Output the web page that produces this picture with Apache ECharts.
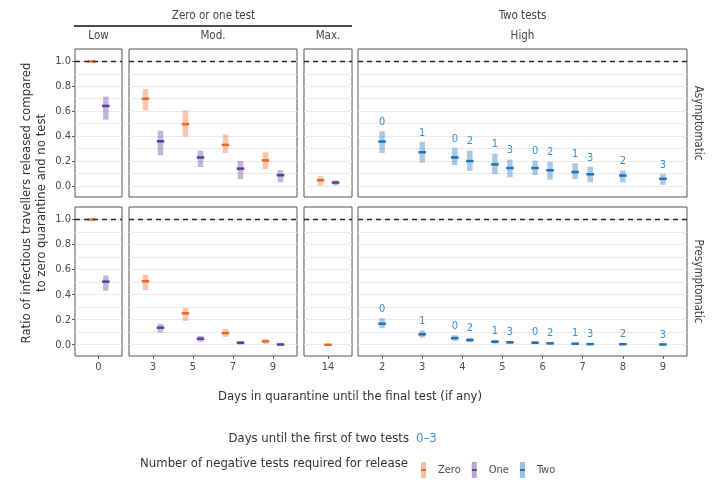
<!DOCTYPE html>
<html><head><meta charset="utf-8">
<script src="https://cdn.jsdelivr.net/npm/echarts@6/dist/echarts.min.js"></script>
<style>html,body{margin:0;padding:0;background:#fff}#c{width:725px;height:485px}</style>
</head><body><div id="c"></div><script>
const FONT = '"Liberation Sans Narrow", "DejaVu Sans Condensed", Roboto, sans-serif';

// ---- facets & ticks ----
const panelNames = ['Low', 'Mod.', 'Max.', 'High'];
const panelDays = [['0'], ['3', '5', '7', '9'], ['14'], ['2', '3', '4', '5', '6', '7', '8', '9']];
const rowNames = ['Asymptomatic', 'Presymptomatic'];
const groupNames = ['Zero', 'One', 'Two'];
const yTicks = [0, 0.2, 0.4, 0.6, 0.8, 1.0];
const yGrid = [0, 0.1, 0.2, 0.3, 0.4, 0.5, 0.6, 0.7, 0.8, 0.9, 1.0];
const refLine = 1.0;

// ---- Asymptomatic ----
const asymZeroDay = ['0', '3', '5', '7', '9', '14'];
const asymZeroMed = [1.0, 0.700, 0.496, 0.329, 0.204, 0.045];
const asymZeroLo  = [0.996, 0.610, 0.400, 0.268, 0.138, 0.005];
const asymZeroHi  = [1.0, 0.775, 0.602, 0.408, 0.265, 0.072];
const asymOneDay = ['0', '3', '5', '7', '9', '14'];
const asymOneMed = [0.642, 0.358, 0.228, 0.138, 0.085, 0.026];
const asymOneLo  = [0.536, 0.249, 0.156, 0.058, 0.032, 0.008];
const asymOneHi  = [0.713, 0.440, 0.279, 0.196, 0.122, 0.040];
const asymTwoDay   = ['2', '3', '4', '4', '5', '5', '6', '6', '7', '7', '8', '9'];
const asymTwoFirst = ['0', '1', '0', '2', '1', '3', '0', '2', '1', '3', '2', '3'];
const asymTwoMed = [0.356, 0.270, 0.228, 0.199, 0.172, 0.143, 0.143, 0.125, 0.111, 0.093, 0.082, 0.056];
const asymTwoLo  = [0.268, 0.191, 0.170, 0.125, 0.098, 0.072, 0.090, 0.053, 0.058, 0.032, 0.032, 0.011];
const asymTwoHi  = [0.435, 0.350, 0.302, 0.279, 0.255, 0.207, 0.199, 0.191, 0.178, 0.149, 0.119, 0.093];

// ---- Presymptomatic ----
const preZeroDay = ['0', '3', '5', '7', '9', '14'];
const preZeroMed = [1.0, 0.507, 0.251, 0.093, 0.027, 0.0];
const preZeroLo  = [0.996, 0.440, 0.195, 0.067, 0.011, 0.0];
const preZeroHi  = [1.0, 0.555, 0.291, 0.123, 0.043, 0.003];
const preOneDay = ['0', '3', '5', '7', '9'];
const preOneMed = [0.504, 0.136, 0.048, 0.016, 0.002];
const preOneLo  = [0.435, 0.101, 0.027, 0.005, 0.0];
const preOneHi  = [0.549, 0.163, 0.067, 0.024, 0.006];
const preTwoDay   = ['2', '3', '4', '4', '5', '5', '6', '6', '7', '7', '8', '9'];
const preTwoFirst = ['0', '1', '0', '2', '1', '3', '0', '2', '1', '3', '2', '3'];
const preTwoMed = [0.168, 0.083, 0.053, 0.037, 0.024, 0.019, 0.016, 0.011, 0.008, 0.005, 0.004, 0.002];
const preTwoLo  = [0.136, 0.061, 0.035, 0.024, 0.013, 0.011, 0.009, 0.005, 0.004, 0.002, 0.001, 0.0];
const preTwoHi  = [0.208, 0.109, 0.072, 0.053, 0.035, 0.027, 0.024, 0.017, 0.013, 0.008, 0.007, 0.004];

// ---- styling / layout ----
const colors = { Zero: '#e8692a', One: '#5e3c99', Two: '#1f72b5' };
const labelColor = '#3a8fd1';
const colLeft = [75, 129, 304, 358];
const colWidth = [47, 168, 48, 329];
const rowTop = [49, 207];
const rowHeight = [148, 149];
const yMin = -0.09, yMax = 1.1;
const dodgeWidth = 0.375;

const rows = [
  { Zero: { day: asymZeroDay, med: asymZeroMed, lo: asymZeroLo, hi: asymZeroHi },
    One:  { day: asymOneDay, med: asymOneMed, lo: asymOneLo, hi: asymOneHi },
    Two:  { day: asymTwoDay, med: asymTwoMed, lo: asymTwoLo, hi: asymTwoHi, first: asymTwoFirst } },
  { Zero: { day: preZeroDay, med: preZeroMed, lo: preZeroLo, hi: preZeroHi },
    One:  { day: preOneDay, med: preOneMed, lo: preOneLo, hi: preOneHi },
    Two:  { day: preTwoDay, med: preTwoMed, lo: preTwoLo, hi: preTwoHi, first: preTwoFirst } }
];

const grids = [], xAxes = [], yAxes = [], series = [];
for (let r = 0; r < 2; r++) {
  for (let c = 0; c < 4; c++) {
    const gi = r * 4 + c;
    const n = panelDays[c].length;
    const idx = panelDays[c].map((d, i) => i + 1);
    grids.push({ left: colLeft[c], top: rowTop[r], width: colWidth[c], height: rowHeight[r],
      show: true, borderColor: '#555', borderWidth: 1, backgroundColor: '#fff' });
    xAxes.push({ gridIndex: gi, type: 'value', min: 0.4, max: n + 0.6, position: 'bottom',
      splitLine: { show: false }, axisLine: { show: false, onZero: false },
      axisTick: { show: r === 1, customValues: idx, length: 3, lineStyle: { color: '#555' } },
      axisLabel: { show: r === 1, customValues: idx, margin: 6, color: '#4d4d4d', fontSize: 11, fontFamily: FONT,
        formatter: v => panelDays[c][Math.round(v) - 1] } });
    yAxes.push({ gridIndex: gi, type: 'value', min: yMin, max: yMax, position: 'left',
      splitLine: { show: false }, axisLine: { show: false, onZero: false },
      axisTick: { show: c === 0, customValues: yTicks, length: 3, lineStyle: { color: '#555' } },
      axisLabel: { show: c === 0, customValues: yTicks, margin: 4, color: '#4d4d4d', fontSize: 11, fontFamily: FONT,
        formatter: v => v.toFixed(1) } });
    yAxes.push({ gridIndex: gi, type: 'value', min: yMin, max: yMax, position: 'right',
      axisLine: { show: false, onZero: false }, axisLabel: { show: false },
      axisTick: { show: false, customValues: yGrid },
      splitLine: { show: true, lineStyle: { color: '#ebebeb', width: 1 } } });
    series.push({ type: 'line', data: [], xAxisIndex: gi, yAxisIndex: gi * 2, z: 2, silent: true,
      markLine: { silent: true, symbol: 'none', label: { show: false }, animation: false,
        lineStyle: { type: [5, 4], color: '#2a2a2a', width: 1.4 }, data: [{ yAxis: refLine }] } });
  }
}

function panelOf(group, day) {
  if (group === 'Two') return 3;
  for (let p = 0; p < 3; p++) if (panelDays[p].includes(day)) return p;
  return -1;
}

for (let r = 0; r < 2; r++) {
  const pts = [];
  groupNames.forEach(g => {
    const s = rows[r][g];
    s.day.forEach((d, i) => {
      const p = panelOf(g, d);
      pts.push({ g, p, cat: panelDays[p].indexOf(d) + 1, med: s.med[i], lo: s.lo[i], hi: s.hi[i],
        label: s.first ? s.first[i] : null });
    });
  });
  // dodge points sharing a position
  const slots = {};
  pts.forEach(pt => { const k = pt.p + '|' + pt.cat; (slots[k] = slots[k] || []).push(pt); });
  Object.values(slots).forEach(arr => arr.forEach((pt, k) => { pt.x = pt.cat + (k - (arr.length - 1) / 2) * dodgeWidth; }));

  for (let p = 0; p < 4; p++) {
    groupNames.forEach(g => {
      const sp = pts.filter(pt => pt.p === p && pt.g === g);
      if (!sp.length) return;
      const gi = r * 4 + p;
      const col = colors[g];
      series.push({
        type: 'custom', name: g, xAxisIndex: gi, yAxisIndex: gi * 2, z: 3,
        itemStyle: { color: col }, color: col,
        data: sp.map(pt => [pt.x, pt.med, pt.lo, pt.hi]),
        renderItem: (params, api) => {
          const x = api.value(0);
          const pm = api.coord([x, api.value(1)]);
          const pl = api.coord([x, api.value(2)]);
          const ph = api.coord([x, api.value(3)]);
          const children = [
            { type: 'rect', shape: { x: pm[0] - 2.75, y: ph[1] - 0.5, width: 5.5, height: Math.max(pl[1] - ph[1] + 1, 1.5) },
              style: { fill: col, opacity: 0.38 } },
            { type: 'rect', shape: { x: pm[0] - 3.75, y: pm[1] - 1.25, width: 7.5, height: 2.5 },
              style: { fill: col } }
          ];
          const lab = sp[params.dataIndex].label;
          if (lab !== null) {
            children.push({ type: 'text', x: pm[0], y: ph[1] - 9.5,
              style: { text: lab, fill: labelColor, font: '11px ' + FONT, align: 'center', verticalAlign: 'middle' } });
          }
          return { type: 'group', children };
        }
      });
    });
  }
}

function keyGrad(col) {
  return { type: 'linear', x: 0, y: 0, x2: 0, y2: 1, colorStops: [
    { offset: 0, color: col + '70' }, { offset: 0.43, color: col + '70' },
    { offset: 0.43, color: col }, { offset: 0.57, color: col },
    { offset: 0.57, color: col + '70' }, { offset: 1, color: col + '70' } ] };
}

const txt = (text, x, y, opts) => Object.assign({ type: 'text', x, y, silent: true,
  style: Object.assign({ text, fill: '#333', font: '12px ' + FONT, align: 'center', verticalAlign: 'middle' }, opts || {}) });

const graphics = [];
graphics.push(txt('Zero or one test', (colLeft[0] + colLeft[2] + colWidth[2]) / 2, 16, { fill: '#444', font: '11.5px ' + FONT }));
graphics.push({ type: 'line', silent: true, shape: { x1: colLeft[0] - 1, y1: 26, x2: colLeft[2] + colWidth[2], y2: 26 },
  style: { stroke: '#111', lineWidth: 1.3 } });
graphics.push(txt('Two tests', colLeft[3] + colWidth[3] / 2, 16, { fill: '#444', font: '11.5px ' + FONT }));
panelNames.forEach((nm, c) => graphics.push(txt(nm, colLeft[c] + colWidth[c] / 2, 36, { fill: '#444', font: '11.5px ' + FONT })));
rowNames.forEach((nm, r) => {
  const t = txt(nm, 698, rowTop[r] + rowHeight[r] / 2, { fill: '#444', font: '11.5px ' + FONT });
  t.rotation = -Math.PI / 2;
  graphics.push(t);
});
const yt = txt('Ratio of infectious travellers released compared\nto zero quarantine and no test', 34, 203,
  { font: '13px ' + FONT, lineHeight: 15.5 });
yt.rotation = Math.PI / 2;
graphics.push(yt);
graphics.push(txt('Days in quarantine until the final test (if any)', 350, 397, { font: '13px ' + FONT }));
graphics.push(txt('Days until the first of two tests', 409, 439, { font: '13px ' + FONT, align: 'right' }));
graphics.push(txt('0\u20133', 416, 439, { font: '13px ' + FONT, align: 'left', fill: labelColor }));
graphics.push(txt('Number of negative tests required for release', 408, 464, { font: '13px ' + FONT, align: 'right' }));

const chart = echarts.init(document.getElementById('c'), null, { renderer: 'canvas' });
chart.setOption({
  animation: false,
  backgroundColor: '#fff',
  grid: grids, xAxis: xAxes, yAxis: yAxes, series,
  legend: {
    data: groupNames.map(g => ({ name: g, itemStyle: { color: keyGrad(colors[g]) } })),
    left: 416, top: 457, orient: 'horizontal', icon: 'rect', itemWidth: 5, itemHeight: 16, itemGap: 11,
    selectedMode: false,
    textStyle: { fontFamily: FONT, fontSize: 11, color: '#4d4d4d', padding: [0, 0, 0, 7] }
  },
  graphic: graphics
});
</script></body></html>
